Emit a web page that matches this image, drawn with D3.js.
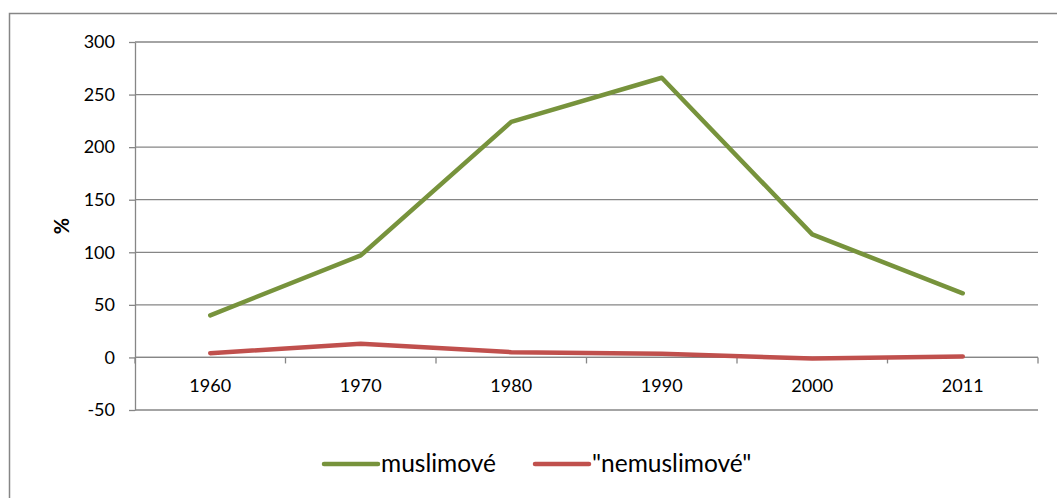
<!DOCTYPE html>
<html>
<head>
<meta charset="utf-8">
<script src="https://cdn.jsdelivr.net/npm/d3@7"></script>
<style>
  body { margin: 0; background: #fff; }
  svg text { font-family: Lato, "Open Sans", sans-serif; fill: #000; }
</style>
</head>
<body>
<div id="chart"></div>
<script>
const years = ['1960', '1970', '1980', '1990', '2000', '2011'];
const muslims = [40, 97, 224, 266, 117, 61];
const nonMuslims = [4, 13, 5, 3.5, -1, 1];
const yTicks = [-50, 0, 50, 100, 150, 200, 250, 300];
const seriesNames = ['muslimové', '"nemuslimové"'];
const colors = ['#77933C', '#C0504D'];

const width = 1057;
const height = 498;
const margin = { top: 42, right: 19, bottom: 88, left: 135 };

const svg = d3.select('#chart')
  .append('svg')
  .attr('width', width)
  .attr('height', height);

// outer chart frame
svg.append('rect')
  .attr('x', 9.5)
  .attr('y', 13.5)
  .attr('width', 1060)
  .attr('height', 500)
  .attr('fill', 'none')
  .attr('stroke', '#868686')
  .attr('stroke-width', 1.5);

const innerW = width - margin.left - margin.right;
const innerH = height - margin.top - margin.bottom;

const x = d3.scaleBand().domain(years).range([0, innerW]);
const y = d3.scaleLinear().domain([-50, 300]).range([innerH, 0]);

const g = svg.append('g')
  .attr('transform', 'translate(' + margin.left + ',' + margin.top + ')');

// horizontal gridlines
g.append('g')
  .selectAll('line')
  .data(yTicks)
  .enter()
  .append('line')
  .attr('x1', 0)
  .attr('x2', innerW)
  .attr('y1', d => y(d))
  .attr('y2', d => y(d))
  .attr('stroke', '#868686')
  .attr('stroke-width', 1.3);

// y axis
const yAxis = g.append('g')
  .call(d3.axisLeft(y).tickValues(yTicks).tickFormat(d => String(d))
    .tickSize(6).tickSizeOuter(0).tickPadding(14));
yAxis.select('.domain').attr('stroke', '#868686').attr('stroke-width', 1.3);
yAxis.selectAll('.tick line').attr('stroke', '#868686').attr('stroke-width', 1.3);
yAxis.selectAll('.tick text')
  .style('font-size', '18px')
  .style('font-family', 'Lato, "Open Sans", sans-serif')
  .attr('fill', '#000');

// x axis at zero, ticks between categories
const xAxisG = g.append('g')
  .attr('transform', 'translate(0,' + y(0) + ')');
xAxisG.append('line')
  .attr('x1', 0).attr('x2', innerW)
  .attr('stroke', '#868686').attr('stroke-width', 1.3);
const edges = years.map(d => x(d)).concat([innerW]);
xAxisG.selectAll('.sep')
  .data(edges)
  .enter()
  .append('line')
  .attr('x1', d => d).attr('x2', d => d)
  .attr('y1', 0).attr('y2', 6)
  .attr('stroke', '#868686').attr('stroke-width', 1.3);
xAxisG.selectAll('.lbl')
  .data(years)
  .enter()
  .append('text')
  .attr('x', d => x(d) + x.bandwidth() / 2)
  .attr('y', 35)
  .attr('text-anchor', 'middle')
  .style('font-size', '18px')
  .text(d => d);

// lines
const line = d3.line()
  .x((d, i) => x(years[i]) + x.bandwidth() / 2)
  .y(d => y(d));

[muslims, nonMuslims].forEach((vals, i) => {
  g.append('path')
    .datum(vals)
    .attr('d', line)
    .attr('fill', 'none')
    .attr('stroke', colors[i])
    .attr('stroke-width', 4.5)
    .attr('stroke-linecap', 'round')
    .attr('stroke-linejoin', 'round');
});

// y label
g.append('text')
  .attr('transform', 'rotate(-90)')
  .attr('x', -(y(125)))
  .attr('y', -66)
  .attr('text-anchor', 'middle')
  .style('font-size', '20px')
  .style('font-weight', 'bold')
  .text('%');

// legend
const legendX = [324, 535];
const legend = svg.append('g');
seriesNames.forEach((name, i) => {
  legend.append('line')
    .attr('x1', legendX[i]).attr('x2', legendX[i] + 54)
    .attr('y1', 464).attr('y2', 464)
    .attr('stroke', colors[i])
    .attr('stroke-width', 4.5)
    .attr('stroke-linecap', 'round');
  legend.append('text')
    .attr('x', legendX[i] + 57)
    .attr('y', 472)
    .style('font-size', '24.5px')
    .text(name);
});
</script>
</body>
</html>
